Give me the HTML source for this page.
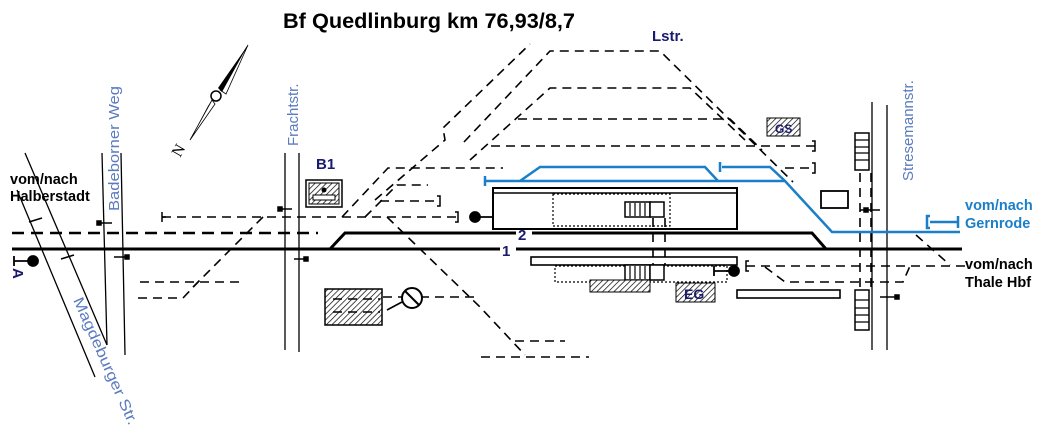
<!DOCTYPE html>
<html><head><meta charset="utf-8"><style>
html,body{margin:0;padding:0;background:#fff;}
svg{display:block;font-family:"Liberation Sans",Arial,sans-serif;}
</style></head><body>
<svg width="1050" height="430" viewBox="0 0 1050 430" xmlns="http://www.w3.org/2000/svg">
<defs>
<pattern id="h" width="4" height="4" patternUnits="userSpaceOnUse" patternTransform="rotate(45)">
<rect width="4" height="4" fill="#fff"/><line x1="0" y1="0" x2="0" y2="4" stroke="#000" stroke-width="1.4"/></pattern>
</defs>
<text x="283" y="28" font-size="21.5" font-weight="bold" textLength="292" lengthAdjust="spacingAndGlyphs">Bf Quedlinburg km 76,93/8,7</text>
<text x="652" y="41" font-size="15" font-weight="bold" fill="#1a1a6e">Lstr.</text>

<!-- roads -->
<g stroke="#000" stroke-width="1.3" fill="none">
<line x1="25" y1="153" x2="107" y2="345"/>
<line x1="17" y1="190" x2="95" y2="377"/>
<line x1="102" y1="153" x2="107" y2="345"/>
<line x1="121" y1="153" x2="125" y2="355"/>
<line x1="285" y1="153" x2="285" y2="350"/>
<line x1="299" y1="153" x2="299" y2="352"/>
<line x1="872" y1="102" x2="872" y2="350"/>
<line x1="887" y1="105" x2="887" y2="350"/>
</g>
<g fill="#5b7bbf" font-size="15">
<text transform="translate(119,211) rotate(-90)" textLength="125" lengthAdjust="spacingAndGlyphs">Badeborner Weg</text>
<text transform="translate(298,146) rotate(-90)">Frachtstr.</text>
<text transform="translate(913,181) rotate(-90)">Stresemannstr.</text>
<text transform="translate(73,300) rotate(66)" textLength="138" lengthAdjust="spacingAndGlyphs">Magdeburger Str.</text>
</g>

<!-- compass -->
<polygon points="248,45 222,92 218,88" fill="#000"/>
<polygon points="248,45 220,90 226,94" fill="none" stroke="#000" stroke-width="0.8"/>
<polygon points="212,100 190,140 208,106" fill="#000"/>
<polygon points="212,100 190,140 215,104" fill="none" stroke="#000" stroke-width="0.8"/>
<circle cx="216" cy="96" r="5" fill="#fff" stroke="#000" stroke-width="1.5"/>
<text transform="translate(180,158) rotate(-60)" font-size="16" font-family="Liberation Serif">N</text>

<!-- main tracks -->
<g stroke="#000" stroke-width="3" fill="none">
<line x1="12" y1="249" x2="500" y2="249"/>
<line x1="516" y1="249" x2="962" y2="249"/>
<polyline points="330,249 345,233 516,233"/>
<polyline points="532,233 812,233 826,249"/>
</g>
<line x1="12" y1="233" x2="318" y2="233" stroke="#000" stroke-width="2.5" stroke-dasharray="12,7"/>
<text x="502" y="256" font-size="15" font-weight="bold" fill="#1a1a6e">1</text>
<text x="518" y="240" font-size="15" font-weight="bold" fill="#1a1a6e">2</text>

<!-- dashed sidings -->
<g stroke="#000" stroke-width="1.6" fill="none" stroke-dasharray="9,6">
<line x1="162" y1="217" x2="458" y2="217"/>
<polyline points="263,217 192,288"/>
<line x1="140" y1="282" x2="243" y2="282"/>
<polyline points="138,298 183,298 200,280"/>
<polyline points="342,217 388,168 503,168"/>
<polyline points="375,200 445,140 443,128 530,44"/>
<polyline points="365,217 397,185 428,185"/>
<line x1="380" y1="201" x2="440" y2="201"/>
<polyline points="387,217 480,307 525,355"/>
<line x1="481" y1="357" x2="589" y2="357"/>
<line x1="515" y1="341" x2="565" y2="341"/>
<polyline points="464,142 550,51 660,51 793,182"/>
<polyline points="470,160 550,88 690,88 745,140"/>
<polyline points="518,119 730,119 762,150"/>
<line x1="491" y1="146" x2="815" y2="146"/>
<line x1="785" y1="168" x2="815" y2="168"/>
<line x1="420" y1="297" x2="475" y2="297"/>
<line x1="383" y1="297" x2="402" y2="297"/>
<line x1="746" y1="266" x2="965" y2="266"/>
<polyline points="765,267 785,282 903,282 910,266"/>
<line x1="916" y1="235" x2="950" y2="265"/>
<line x1="860" y1="173" x2="860" y2="290"/>
<line x1="871" y1="173" x2="871" y2="290"/>
<line x1="653" y1="218" x2="653" y2="265"/>
<line x1="665" y1="218" x2="665" y2="265"/>
</g>

<!-- bumpers -->
<g stroke="#000" stroke-width="1.5" fill="none">
<path d="M162,212 v10 M162,217 h4"/>
<path d="M455,212 h3 v10 h-3"/>
<path d="M437,196 h3 v10 h-3"/>
<path d="M812,141 h3 v10 h-3"/>
<path d="M812,163 h3 v10 h-3"/>
<path d="M749,261 h-3 v10 h3"/>
</g>

<!-- signals -->
<g stroke="#000" stroke-width="1.8" fill="#000">
<circle cx="475" cy="217" r="5"/><path d="M475,217 H493 M493,212 v10" fill="none"/>
<circle cx="734" cy="271" r="5"/><path d="M734,271 H714 M714,266 v10" fill="none"/>
<circle cx="33" cy="261" r="5"/><path d="M33,261 H14 M14,256 v10" fill="none"/>
</g>
<text transform="translate(13,268) rotate(90)" font-size="15" font-weight="bold" fill="#1a1a6e">A</text>

<!-- small markers on roads -->
<g stroke="#000" stroke-width="1.5">
<line x1="97" y1="223" x2="112" y2="223"/><rect x="97" y="221" width="4" height="4"/>
<line x1="114" y1="257" x2="128" y2="257"/><rect x="125" y="255" width="4" height="4"/>
<line x1="278" y1="209" x2="292" y2="209"/><rect x="278" y="207" width="4" height="4"/>
<line x1="294" y1="259" x2="307" y2="259"/><rect x="304" y="257" width="4" height="4"/>
<line x1="860" y1="210" x2="880" y2="210"/><rect x="864" y="208" width="4" height="4"/>
<line x1="880" y1="297" x2="899" y2="297"/><rect x="895" y="295" width="4" height="4"/>
<line x1="29" y1="222" x2="42" y2="218"/><line x1="61" y1="259" x2="74" y2="255"/>
</g>

<!-- blue tracks -->
<g stroke="#1a7fc8" stroke-width="2.5" fill="none">
<line x1="485" y1="181" x2="785" y2="181"/>
<polyline points="520,181 540,167 705,167 718,181"/>
<polyline points="722,167 770,167 785,181 832,232 960,232"/>
<path d="M485,176 v10 M720,162 v10"/>
<path d="M930,216 h-3 v12 h3 M930,222 H958 M958,216 v12"/>
</g>
<text x="965" y="210" font-size="14.5" font-weight="bold" fill="#1a7fc8">vom/nach</text>
<text x="965" y="228" font-size="14.5" font-weight="bold" fill="#1a7fc8">Gernrode</text>
<text x="965" y="269" font-size="14.5" font-weight="bold">vom/nach</text>
<text x="965" y="287" font-size="14.5" font-weight="bold">Thale Hbf</text>
<text x="10" y="184" font-size="14.5" font-weight="bold">vom/nach</text>
<text x="10" y="201" font-size="14.5" font-weight="bold">Halberstadt</text>

<!-- platforms -->
<g stroke="#000" fill="none">
<rect x="493" y="188" width="244" height="41" stroke-width="2"/>
<line x1="493" y1="193" x2="737" y2="193" stroke-width="1.5"/>
<rect x="553" y="194" width="117" height="32" stroke-width="1.2" stroke-dasharray="2,2"/>
<rect x="531" y="257" width="206" height="8" stroke-width="1.6"/>
<rect x="555" y="266" width="172" height="16" stroke-width="1.2" stroke-dasharray="2,2"/>
<rect x="737" y="290" width="103" height="8" stroke-width="1.6"/>
<rect x="821" y="191" width="27" height="17" stroke-width="1.8"/>
</g>
<g stroke="#000" stroke-width="1.5" fill="#fff">
<rect x="625" y="202" width="25" height="15"/><rect x="650" y="202" width="14" height="15"/>
<rect x="625" y="265" width="25" height="15"/><rect x="650" y="265" width="14" height="15"/>
<rect x="855" y="133" width="14" height="37"/>
<rect x="855" y="290" width="14" height="40"/>
</g>
<g stroke="#000" stroke-width="1.2">
<path d="M630,203 v13 M635,203 v13 M640,203 v13 M645,203 v13"/>
<path d="M630,266 v13 M635,266 v13 M640,266 v13 M645,266 v13"/>
<path d="M855,140 h14 M855,147 h14 M855,153 h14 M855,160 h14"/>
<path d="M855,300 h14 M855,308 h14 M855,315 h14 M855,322 h14"/>
</g>
<rect x="590" y="280" width="60" height="12" fill="url(#h)" stroke="#000"/>
<rect x="676" y="283" width="39" height="19" fill="url(#h)" stroke="#000"/>
<text x="684" y="299" font-size="14" font-weight="bold" fill="#1a1a6e">EG</text>
<rect x="767" y="118" width="33" height="18" fill="url(#h)" stroke="#000"/>
<text x="775" y="133" font-size="12" font-weight="bold" fill="#1a1a6e">GS</text>

<!-- B1 -->
<text x="316" y="169" font-size="15" font-weight="bold" fill="#1a1a6e">B1</text>
<rect x="306" y="180" width="36" height="27" fill="#fff" stroke="#000" stroke-width="1.5"/>
<rect x="309" y="183" width="30" height="21" fill="url(#h)" stroke="#000"/>
<rect x="313" y="195" width="22" height="5" fill="#fff" stroke="#000"/>
<circle cx="324" cy="190" r="2.5" fill="#000"/>

<!-- hatched building & symbol -->
<rect x="325" y="289" width="57" height="36" fill="url(#h)" stroke="#000" stroke-width="1.5"/>
<g stroke="#000" stroke-width="1.6" stroke-dasharray="9,6"><line x1="333" y1="299" x2="380" y2="299"/><line x1="333" y1="312" x2="380" y2="312"/></g>
<line x1="387" y1="310" x2="402" y2="302" stroke="#000" stroke-width="1.6"/>
<circle cx="412" cy="298" r="10" fill="#fff" stroke="#000" stroke-width="2"/>
<line x1="405" y1="291" x2="419" y2="305" stroke="#000" stroke-width="2"/>
</svg>
</body></html>
